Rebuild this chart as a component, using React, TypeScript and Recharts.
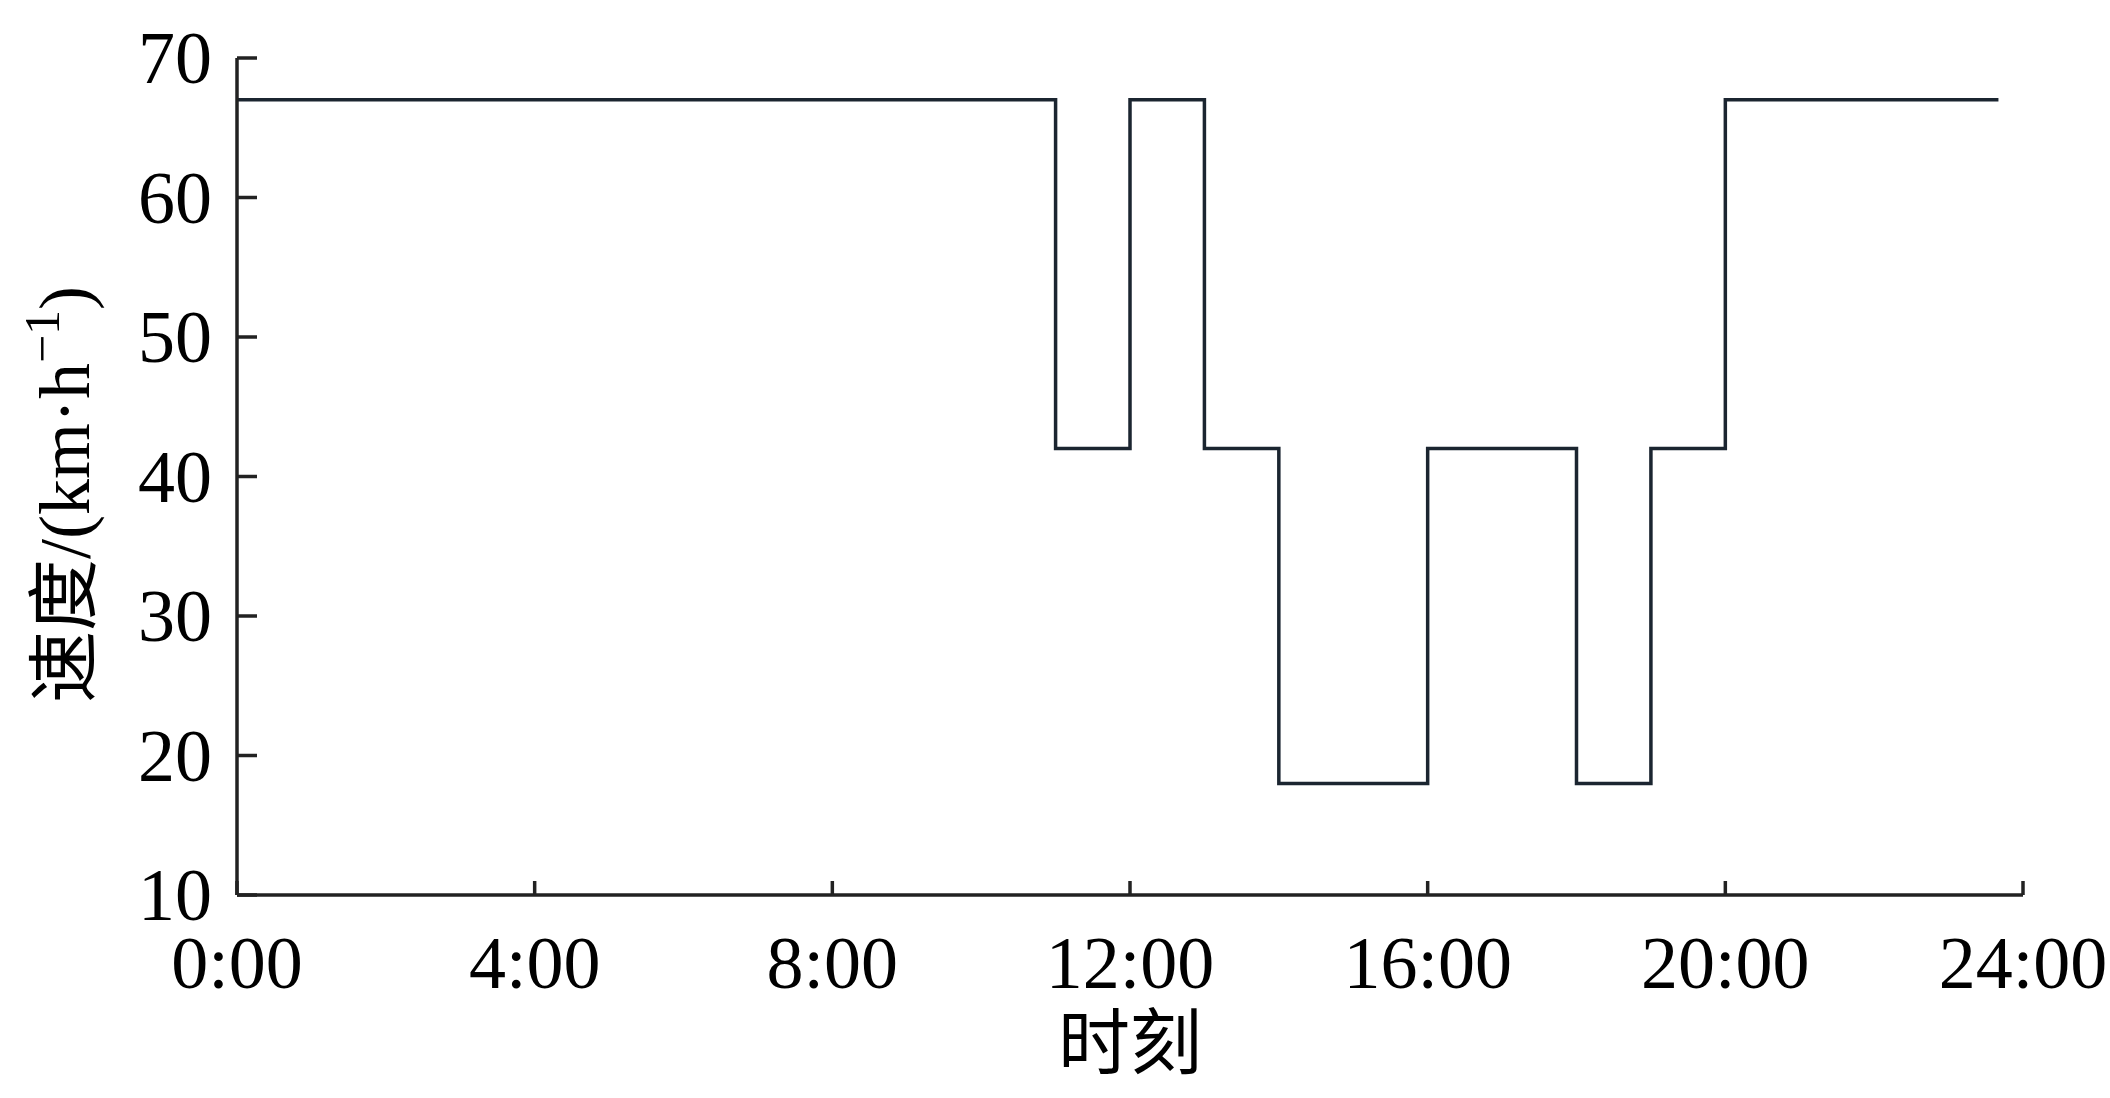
import { LineChart, Line, XAxis, YAxis, Label } from "recharts";

// step times (hours) and the speed that holds from each time on
const hours = [0, 11, 12, 13, 14, 16, 18, 19, 20, 23.67];
const speeds = [67, 42, 67, 42, 18, 42, 18, 42, 67, 67];

const xTicks = [0, 4, 8, 12, 16, 20, 24];
const xTickLabels = ["0:00", "4:00", "8:00", "12:00", "16:00", "20:00", "24:00"];
const yTicks = [10, 20, 30, 40, 50, 60, 70];

const data = hours.map((h, i) => ({ hour: h, speed: speeds[i] }));

const FONT = "'Liberation Serif', 'Noto Sans CJK SC', serif";
const AXIS = "#222";
const LINE = "#1b2530";

function YTick(props: any) {
  const { x, y, payload } = props;
  // x sits 25px left of the axis line (tickMargin)
  return (
    <g>
      <line x1={x + 25} x2={x + 45} y1={y} y2={y} stroke={AXIS} strokeWidth={3.5} />
      <text x={x} y={y + 25} textAnchor="end" fontSize={74} fontFamily={FONT} fill="#000">
        {payload.value}
      </text>
    </g>
  );
}

function XTick(props: any) {
  const { x, y, payload } = props;
  const idx = xTicks.indexOf(payload.value);
  const axisY = y - 93;
  return (
    <g>
      <line x1={x} x2={x} y1={axisY} y2={axisY - 14} stroke={AXIS} strokeWidth={3.5} />
      <text x={x} y={y} textAnchor="middle" fontSize={74} fontFamily={FONT} fill="#000">
        {idx >= 0 ? xTickLabels[idx] : payload.value}
      </text>
    </g>
  );
}

function XTitle(props: any) {
  const vb = props.viewBox;
  return (
    <text x={vb.x + vb.width / 2} y={vb.y + 173} textAnchor="middle" fontSize={72} fontFamily={FONT} fill="#000">
      时刻
    </text>
  );
}

function YTitle(props: any) {
  const vb = props.viewBox;
  const cx = vb.x - 8;
  const cy = vb.y + vb.height / 2 + 18;
  return (
    <text
      x={cx}
      y={cy}
      transform={`rotate(-90, ${cx}, ${cy})`}
      textAnchor="middle"
      fontSize={72}
      fontFamily={FONT}
      fill="#000"
    >
      速度/(km·h
      <tspan dy={-30} fontSize={50}>−1</tspan>
      <tspan dy={30}>)</tspan>
    </text>
  );
}

export default function App() {
  return (
    <div style={{ width: 2110, height: 1098, background: "#fff" }}>
      <style>{`body{margin:0;overflow:hidden;}`}</style>
      <LineChart
        width={2110}
        height={1098}
        data={data}
        margin={{ top: 58, right: 87, bottom: 103, left: 97 }}
      >
        <XAxis
          dataKey="hour"
          type="number"
          domain={[0, 24]}
          ticks={xTicks}
          interval={0}
          height={100}
          tickSize={0}
          tickMargin={93}
          tickLine={false}
          tick={<XTick />}
          axisLine={{ stroke: AXIS, strokeWidth: 3.5 }}
        >
          <Label content={<XTitle />} />
        </XAxis>
        <YAxis
          type="number"
          domain={[10, 70]}
          ticks={yTicks}
          interval={0}
          width={140}
          tickSize={0}
          tickMargin={25}
          tickLine={false}
          tick={<YTick />}
          axisLine={{ stroke: AXIS, strokeWidth: 3.5 }}
        >
          <Label content={<YTitle />} />
        </YAxis>
        <Line
          type="stepAfter"
          dataKey="speed"
          stroke={LINE}
          strokeWidth={3.5}
          dot={false}
          activeDot={false}
          isAnimationActive={false}
        />
      </LineChart>
    </div>
  );
}
